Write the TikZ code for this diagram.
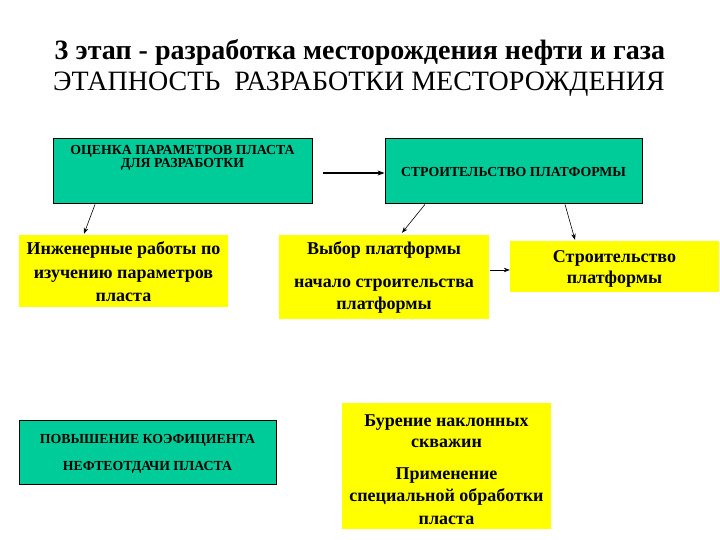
\documentclass[tikz,border=0pt]{standalone}
\usepackage{fontspec}
\setmainfont{Liberation Serif}
\usetikzlibrary{arrows.meta}
\definecolor{tealc}{RGB}{0,204,153}
\definecolor{yellc}{RGB}{255,255,0}
\tikzset{
  tealbox/.style={draw=black, line width=0.8pt, fill=tealc, inner sep=0pt},
  yellbox/.style={fill=yellc, draw=none, inner sep=0pt},
  smalltxt/.style={font=\bfseries\fontsize{13.8}{13.5}\selectfont, inner sep=0pt, align=center},
  bigtxt/.style={font=\bfseries\fontsize{18}{23.5}\selectfont, inner sep=0pt, align=center},
  thinarr/.style={-{Stealth[length=6pt,width=4.5pt]}, line width=0.6pt},
  thickarr/.style={-{Stealth[length=7pt,width=5pt]}, line width=1.6pt},
}
\begin{document}
\begin{tikzpicture}[x=1pt,y=-1pt]
\useasboundingbox (0,0) rectangle (720,540);
\fill[white] (0,0) rectangle (720,540);
% titles
\node[font=\bfseries\fontsize{28}{30}\selectfont, inner sep=0pt] (t1) at (360,52) {3 этап - разработка месторождения нефти и газа};
\node[font=\fontsize{28}{30}\selectfont, inner sep=0pt] (t2) at (359,84) {ЭТАПНОСТЬ\ \ РАЗРАБОТКИ МЕСТОРОЖДЕНИЯ};
% boxes
\node[tealbox, minimum width=259pt, minimum height=65pt] (b1) at (182.5,170.5) {};
\node[smalltxt, anchor=north] (b1t) at (182.5,145) {ОЦЕНКА ПАРАМЕТРОВ ПЛАСТА\\ДЛЯ РАЗРАБОТКИ};
\node[tealbox, minimum width=257pt, minimum height=65pt] (b2) at (513.5,170.5) {};
\node[smalltxt] (b2t) at (513.5,172) {СТРОИТЕЛЬСТВО ПЛАТФОРМЫ};
\node[yellbox, minimum width=209pt, minimum height=72pt] (b3) at (123.5,271) {};
\node[bigtxt] (b3t) at (123.5,272) {Инженерные работы по\\изучению параметров\\пласта};
\node[yellbox, minimum width=210pt, minimum height=84pt] (b4) at (384,277) {};
\node[bigtxt] (b4t) at (384,250) {Выбор платформы};
\node[bigtxt, font=\bfseries\fontsize{18}{22}\selectfont] (b4u) at (384,296.5) {начало строительства\\платформы};
\node[yellbox, minimum width=209pt, minimum height=51pt] (b5) at (614.5,266.5) {};
\node[bigtxt, font=\bfseries\fontsize{18}{21}\selectfont] (b5t) at (614.5,268.5) {Строительство\\платформы};
\node[tealbox, minimum width=257pt, minimum height=64pt] (b6) at (147.5,452) {};
\node[smalltxt] (b6t) at (147.5,440) {ПОВЫШЕНИЕ КОЭФИЦИЕНТА};
\node[smalltxt] (b6u) at (147.5,467) {НЕФТЕОТДАЧИ ПЛАСТА};
\node[yellbox, minimum width=209pt, minimum height=126pt] (b7) at (446.5,466) {};
\node[bigtxt, font=\bfseries\fontsize{18}{21}\selectfont] (b7t) at (446.5,431) {Бурение наклонных\\скважин};
\node[bigtxt, font=\bfseries\fontsize{18}{22.5}\selectfont] (b7u) at (446.5,496) {Применение\\специальной обработки\\пласта};
% arrows
\draw[thickarr] ([xshift=11pt,yshift=-2.5pt]b1.east) -- ([yshift=-2.5pt]b2.west);
\draw[thinarr] ([xshift=-87.5pt,yshift=-1pt]b1.south) -- ([xshift=-39.5pt,yshift=1pt]b3.north);
\draw[thinarr] ([xshift=-88.5pt,yshift=-1pt]b2.south) -- ([xshift=18pt,yshift=2pt]b4.north);
\draw[thinarr] ([xshift=51.5pt,yshift=-1pt]b2.south) -- ([xshift=-39.5pt,yshift=1pt]b5.north);
\draw[thinarr] ([xshift=1pt,yshift=7pt]b4.east) -- ([yshift=-3.5pt]b5.west);
\end{tikzpicture}
\end{document}
